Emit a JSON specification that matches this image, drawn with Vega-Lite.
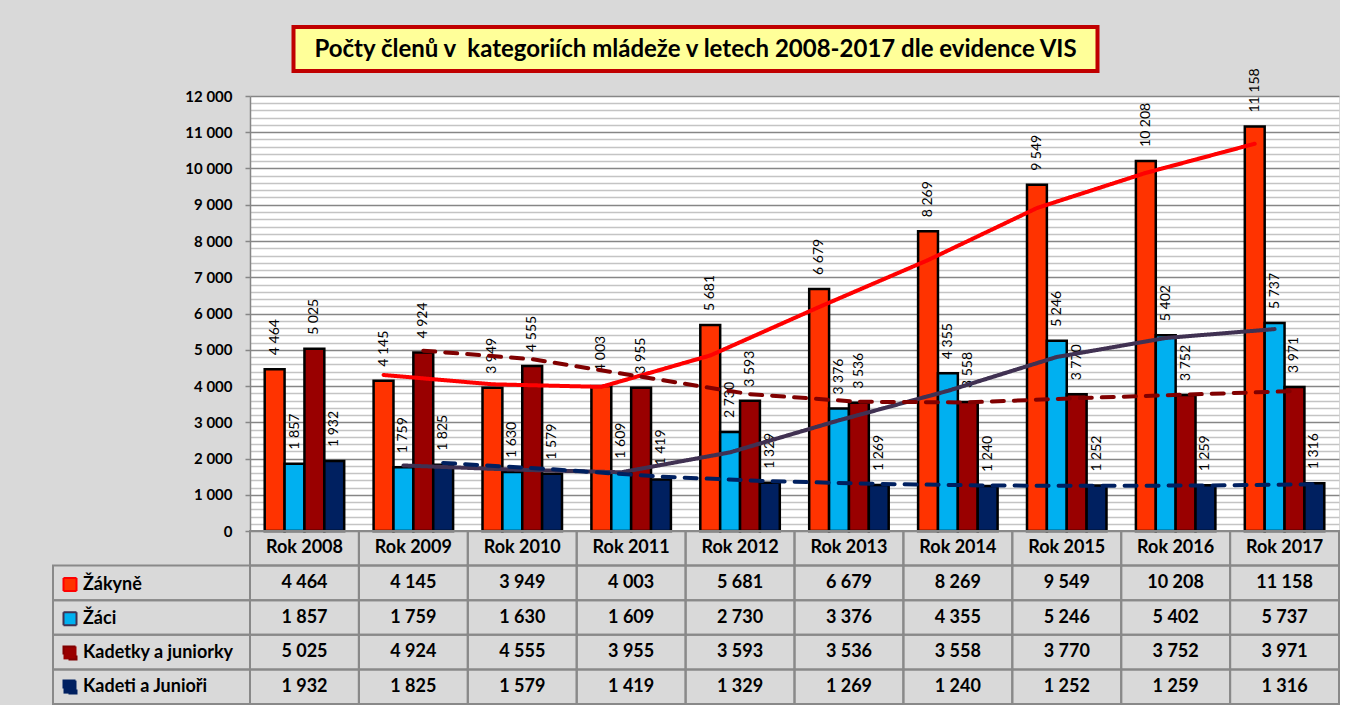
{
  "$schema": "https://vega.github.io/schema/vega-lite/v6.json",
  "background": "#D9D9D9",
  "padding": {"left": 52, "top": 25, "right": 0, "bottom": 0},
  "config": {
    "locale": {"number": {"decimal": ",", "thousands": " ", "grouping": [3], "currency": ["", " Kč"]}},
    "font": "Lato",
    "view": {"stroke": null}
  },
  "datasets": {
    "bars": [
      {"year": "Rok 2008", "series": "Žákyně", "value": 4464},
      {"year": "Rok 2009", "series": "Žákyně", "value": 4145},
      {"year": "Rok 2010", "series": "Žákyně", "value": 3949},
      {"year": "Rok 2011", "series": "Žákyně", "value": 4003},
      {"year": "Rok 2012", "series": "Žákyně", "value": 5681},
      {"year": "Rok 2013", "series": "Žákyně", "value": 6679},
      {"year": "Rok 2014", "series": "Žákyně", "value": 8269},
      {"year": "Rok 2015", "series": "Žákyně", "value": 9549},
      {"year": "Rok 2016", "series": "Žákyně", "value": 10208},
      {"year": "Rok 2017", "series": "Žákyně", "value": 11158},
      {"year": "Rok 2008", "series": "Žáci", "value": 1857},
      {"year": "Rok 2009", "series": "Žáci", "value": 1759},
      {"year": "Rok 2010", "series": "Žáci", "value": 1630},
      {"year": "Rok 2011", "series": "Žáci", "value": 1609},
      {"year": "Rok 2012", "series": "Žáci", "value": 2730},
      {"year": "Rok 2013", "series": "Žáci", "value": 3376},
      {"year": "Rok 2014", "series": "Žáci", "value": 4355},
      {"year": "Rok 2015", "series": "Žáci", "value": 5246},
      {"year": "Rok 2016", "series": "Žáci", "value": 5402},
      {"year": "Rok 2017", "series": "Žáci", "value": 5737},
      {"year": "Rok 2008", "series": "Kadetky a juniorky", "value": 5025},
      {"year": "Rok 2009", "series": "Kadetky a juniorky", "value": 4924},
      {"year": "Rok 2010", "series": "Kadetky a juniorky", "value": 4555},
      {"year": "Rok 2011", "series": "Kadetky a juniorky", "value": 3955},
      {"year": "Rok 2012", "series": "Kadetky a juniorky", "value": 3593},
      {"year": "Rok 2013", "series": "Kadetky a juniorky", "value": 3536},
      {"year": "Rok 2014", "series": "Kadetky a juniorky", "value": 3558},
      {"year": "Rok 2015", "series": "Kadetky a juniorky", "value": 3770},
      {"year": "Rok 2016", "series": "Kadetky a juniorky", "value": 3752},
      {"year": "Rok 2017", "series": "Kadetky a juniorky", "value": 3971},
      {"year": "Rok 2008", "series": "Kadeti a Junioři", "value": 1932},
      {"year": "Rok 2009", "series": "Kadeti a Junioři", "value": 1825},
      {"year": "Rok 2010", "series": "Kadeti a Junioři", "value": 1579},
      {"year": "Rok 2011", "series": "Kadeti a Junioři", "value": 1419},
      {"year": "Rok 2012", "series": "Kadeti a Junioři", "value": 1329},
      {"year": "Rok 2013", "series": "Kadeti a Junioři", "value": 1269},
      {"year": "Rok 2014", "series": "Kadeti a Junioři", "value": 1240},
      {"year": "Rok 2015", "series": "Kadeti a Junioři", "value": 1252},
      {"year": "Rok 2016", "series": "Kadeti a Junioři", "value": 1259},
      {"year": "Rok 2017", "series": "Kadeti a Junioři", "value": 1316}
    ],
    "trend": [
      {"year": "Rok 2009", "series": "Žákyně", "ma": 4304.5},
      {"year": "Rok 2010", "series": "Žákyně", "ma": 4047},
      {"year": "Rok 2011", "series": "Žákyně", "ma": 3976},
      {"year": "Rok 2012", "series": "Žákyně", "ma": 4842},
      {"year": "Rok 2013", "series": "Žákyně", "ma": 6180},
      {"year": "Rok 2014", "series": "Žákyně", "ma": 7474},
      {"year": "Rok 2015", "series": "Žákyně", "ma": 8909},
      {"year": "Rok 2016", "series": "Žákyně", "ma": 9878.5},
      {"year": "Rok 2017", "series": "Žákyně", "ma": 10683},
      {"year": "Rok 2009", "series": "Žáci", "ma": 1808},
      {"year": "Rok 2010", "series": "Žáci", "ma": 1694.5},
      {"year": "Rok 2011", "series": "Žáci", "ma": 1619.5},
      {"year": "Rok 2012", "series": "Žáci", "ma": 2169.5},
      {"year": "Rok 2013", "series": "Žáci", "ma": 3053},
      {"year": "Rok 2014", "series": "Žáci", "ma": 3865.5},
      {"year": "Rok 2015", "series": "Žáci", "ma": 4800.5},
      {"year": "Rok 2016", "series": "Žáci", "ma": 5324},
      {"year": "Rok 2017", "series": "Žáci", "ma": 5569.5},
      {"year": "Rok 2009", "series": "Kadetky a juniorky", "ma": 4974.5},
      {"year": "Rok 2010", "series": "Kadetky a juniorky", "ma": 4739.5},
      {"year": "Rok 2011", "series": "Kadetky a juniorky", "ma": 4255},
      {"year": "Rok 2012", "series": "Kadetky a juniorky", "ma": 3774},
      {"year": "Rok 2013", "series": "Kadetky a juniorky", "ma": 3564.5},
      {"year": "Rok 2014", "series": "Kadetky a juniorky", "ma": 3547},
      {"year": "Rok 2015", "series": "Kadetky a juniorky", "ma": 3664},
      {"year": "Rok 2016", "series": "Kadetky a juniorky", "ma": 3761},
      {"year": "Rok 2017", "series": "Kadetky a juniorky", "ma": 3861.5},
      {"year": "Rok 2009", "series": "Kadeti a Junioři", "ma": 1878.5},
      {"year": "Rok 2010", "series": "Kadeti a Junioři", "ma": 1702},
      {"year": "Rok 2011", "series": "Kadeti a Junioři", "ma": 1499},
      {"year": "Rok 2012", "series": "Kadeti a Junioři", "ma": 1374},
      {"year": "Rok 2013", "series": "Kadeti a Junioři", "ma": 1299},
      {"year": "Rok 2014", "series": "Kadeti a Junioři", "ma": 1254.5},
      {"year": "Rok 2015", "series": "Kadeti a Junioři", "ma": 1246},
      {"year": "Rok 2016", "series": "Kadeti a Junioři", "ma": 1255.5},
      {"year": "Rok 2017", "series": "Kadeti a Junioři", "ma": 1287.5}
    ]
  },
  "vconcat": [
    {
      "width": 804,
      "height": 44,
      "view": {"fill": "#FFFF99", "stroke": "#C00000", "strokeWidth": 4},
      "data": {"values": [{"t": "Počty členů v\u00a0 kategoriích mládeže v letech 2008-2017 dle evidence VIS"}]},
      "mark": {"type": "text", "font": "Lato", "fontWeight": "bold", "fontSize": 24, "color": "black", "baseline": "middle", "align": "center", "dy": 1},
      "encoding": {"text": {"field": "t", "type": "nominal"}}
    },
    {
      "columns": 2,
      "bounds": "flush",
      "spacing": 0,
      "concat": [
        {
          "width": 197,
          "height": 435,
          "data": {"values": [{}]},
          "mark": {"type": "text", "text": ""}
        },
        {
          "width": 1089,
          "height": 435,
          "view": {"fill": "white", "stroke": null},
          "data": {"name": "bars"},
          "encoding": {
            "x": {"field": "year", "type": "nominal", "axis": null, "scale": {"paddingInner": 0.27, "paddingOuter": 0.135}}
          },
          "layer": [
            {
              "mark": {"type": "bar", "stroke": "black", "strokeWidth": 2.5},
              "encoding": {
                "xOffset": {"field": "series", "type": "nominal", "sort": ["Žákyně", "Žáci", "Kadetky a juniorky", "Kadeti a Junioři"], "scale": {"paddingInner": 0, "paddingOuter": 0}},
                "y": {
                  "field": "value", "type": "quantitative",
                  "scale": {"domain": [0, 12000], "nice": false},
                  "axis": {
                    "title": null,
                    "values": [0,200,400,600,800,1000,1200,1400,1600,1800,2000,2200,2400,2600,2800,3000,3200,3400,3600,3800,4000,4200,4400,4600,4800,5000,5200,5400,5600,5800,6000,6200,6400,6600,6800,7000,7200,7400,7600,7800,8000,8200,8400,8600,8800,9000,9200,9400,9600,9800,10000,10200,10400,10600,10800,11000,11200,11400,11600,11800,12000],
                    "tickCount": 200,
                    "format": ",d",
                    "labelExpr": "datum.value % 1000 === 0 ? datum.label : ''",
                    "labelOverlap": false,
                    "labelFont": "Lato", "labelFontWeight": "bold", "labelFontSize": 15, "labelColor": "black",
                    "labelPadding": 13,
                    "tickSize": 5,
                    "tickWidth": 1.5,
                    "tickColor": {"condition": {"test": "datum.value % 1000 === 0", "value": "#868686"}, "value": "transparent"},
                    "domainColor": "#868686", "domainWidth": 1.5,
                    "grid": true,
                    "gridColor": {"condition": {"test": "datum.value % 1000 === 0", "value": "#868686"}, "value": "#C4C4C4"},
                    "gridWidth": 1.6
                  }
                },
                "fill": {
                  "field": "series", "type": "nominal",
                  "scale": {"domain": ["Žákyně", "Žáci", "Kadetky a juniorky", "Kadeti a Junioři"], "range": ["#FF3300", "#00B0F0", "#990000", "#002060"]},
                  "legend": {
                    "orient": "none", "legendX": 8, "legendY": 548.5, "title": null, "direction": "vertical",
                    "symbolType": "square", "symbolSize": 169, "symbolStrokeColor": "black", "symbolStrokeWidth": 2, "symbolOpacity": 1,
                    "labelFont": "Lato", "labelFontWeight": "bold", "labelFontSize": 18, "labelColor": "black",
                    "labelOffset": 4, "rowPadding": 12.2, "labelLimit": 300
                  }
                }
              }
            },
            {
              "mark": {"type": "text", "angle": 270, "align": "left", "baseline": "middle", "dx": 14, "font": "Lato", "fontSize": 14, "color": "black"},
              "encoding": {
                "xOffset": {"field": "series", "type": "nominal", "sort": ["Žákyně", "Žáci", "Kadetky a juniorky", "Kadeti a Junioři"]},
                "y": {"field": "value", "type": "quantitative"},
                "text": {"field": "value", "type": "quantitative", "format": ",d"}
              }
            },
            {
              "data": {"name": "trend"},
              "mark": {"type": "line", "strokeWidth": 4, "strokeCap": "round"},
              "encoding": {
                "xOffset": {"field": "series", "type": "nominal", "sort": ["Žákyně", "Žáci", "Kadetky a juniorky", "Kadeti a Junioři"]},
                "y": {"field": "ma", "type": "quantitative"},
                "stroke": {"field": "series", "type": "nominal", "scale": {"domain": ["Žákyně", "Žáci", "Kadetky a juniorky", "Kadeti a Junioři"], "range": ["#FF0000", "#403152", "#800000", "#002060"]}, "legend": null},
                "strokeDash": {"field": "series", "type": "nominal", "scale": {"domain": ["Žákyně", "Žáci", "Kadetky a juniorky", "Kadeti a Junioři"], "range": [[1, 0], [1, 0], [12, 10], [12, 10]]}, "legend": null}
              }
            }
          ]
        },
        {
          "width": 197,
          "height": 173,
          "data": {"name": "bars"},
          "transform": [{"filter": "datum.year === 'Rok 2008'"}],
          "mark": {"type": "rect", "filled": false, "stroke": "#898989", "strokeWidth": 2},
          "encoding": {
            "y": {"field": "series", "type": "nominal", "scale": {"domain": ["Rok", "Žákyně", "Žáci", "Kadetky a juniorky", "Kadeti a Junioři"], "paddingInner": 0, "paddingOuter": 0}, "axis": null}
          }
        },
        {
          "width": 1089,
          "height": 173,
          "data": {"name": "bars"},
          "encoding": {
            "x": {"field": "year", "type": "nominal", "axis": null, "scale": {"paddingInner": 0, "paddingOuter": 0}}
          },
          "layer": [
            {
              "mark": {"type": "rect", "filled": false, "stroke": "#898989", "strokeWidth": 2},
              "encoding": {
                "y": {"field": "series", "type": "nominal", "scale": {"domain": ["Rok", "Žákyně", "Žáci", "Kadetky a juniorky", "Kadeti a Junioři"], "paddingInner": 0, "paddingOuter": 0}, "axis": null}
              }
            },
            {
              "transform": [{"filter": "datum.series === 'Žákyně'"}],
              "mark": {"type": "rect", "filled": false, "stroke": "#898989", "strokeWidth": 2},
              "encoding": {"y": {"datum": "Rok", "type": "nominal"}}
            },
            {
              "mark": {"type": "text", "font": "Lato", "fontWeight": "bold", "fontSize": 18, "color": "black", "baseline": "middle"},
              "encoding": {
                "y": {"field": "series", "type": "nominal"},
                "text": {"field": "value", "type": "quantitative", "format": ",d"}
              }
            },
            {
              "transform": [{"filter": "datum.series === 'Žákyně'"}],
              "mark": {"type": "text", "font": "Lato", "fontWeight": "bold", "fontSize": 18, "color": "black", "baseline": "middle"},
              "encoding": {
                "y": {"datum": "Rok", "type": "nominal"},
                "text": {"field": "year", "type": "nominal"}
              }
            }
          ]
        }
      ]
    }
  ],
  "spacing": -5,
  "center": true
}
